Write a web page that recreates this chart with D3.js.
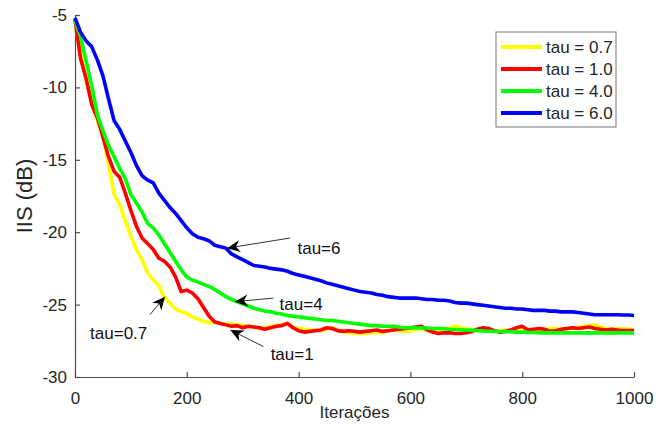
<!DOCTYPE html>
<html><head><meta charset="utf-8">
<script src="https://cdn.jsdelivr.net/npm/d3@7/dist/d3.min.js"></script>
<style>html,body{margin:0;padding:0;background:#fff;}svg{display:block;font-family:"Liberation Sans",Arial,sans-serif;}</style>
</head><body><svg id="c" width="669" height="432"></svg>
<script>
const iterations = d3.range(0, 1001, 10);
const seriesNames = ["tau = 0.7", "tau = 1.0", "tau = 4.0", "tau = 6.0"];
const seriesColors = ["#ffff00", "#ff0000", "#00ff00", "#0000ff"];
const xTicks = [0, 200, 400, 600, 800, 1000];
const yTicks = [-5, -10, -15, -20, -25, -30];

const tau07 = [-5.5,-7.5,-9.6,-11.0,-12.3,-13.4,-15.3,-17.4,-18.1,-19.2,-20.3,-21.2,-21.9,-22.8,-23.3,-23.7,-24.5,-24.9,-25.3,-25.5,
-25.6,-25.85,-26.0,-26.15,-26.25,-26.2,-26.3,-26.35,-26.35,-26.4,-26.45,-26.5,-26.55,-26.65,-26.6,-26.5,-26.45,-26.4,-26.3,-26.55,
-26.65,-26.7,-26.75,-26.75,-26.8,-26.7,-26.6,-26.75,-26.85,-26.95,-27.0,-27.0,-27.0,-26.95,-26.9,-26.95,-26.8,-26.75,-26.8,-26.85,
-26.8,-26.7,-26.65,-26.8,-26.9,-26.85,-26.75,-26.6,-26.5,-26.6,-26.65,-26.75,-26.7,-26.75,-26.8,-26.85,-26.8,-26.75,-26.8,-26.7,
-26.65,-26.7,-26.75,-26.8,-26.75,-26.65,-26.65,-26.7,-26.65,-26.6,-26.55,-26.5,-26.45,-26.4,-26.55,-26.65,-26.7,-26.65,-26.65,-26.7,-26.7];
const tau10 = [-5.3,-8.0,-9.4,-11.2,-12.1,-13.4,-14.8,-15.8,-16.2,-17.3,-18.5,-19.6,-20.4,-20.8,-21.2,-21.8,-22.0,-22.4,-23.1,-24.1,
-24.0,-24.2,-24.6,-25.2,-25.8,-26.2,-26.3,-26.4,-26.5,-26.45,-26.6,-26.5,-26.55,-26.6,-26.7,-26.6,-26.5,-26.45,-26.3,-26.6,
-26.8,-26.9,-26.85,-26.8,-26.75,-26.6,-26.65,-26.8,-26.85,-26.8,-26.85,-26.9,-26.85,-26.8,-26.75,-26.85,-26.8,-26.75,-26.7,-26.65,
-26.6,-26.55,-26.5,-26.75,-26.9,-27.0,-26.95,-26.95,-27.0,-27.0,-26.95,-26.85,-26.7,-26.6,-26.65,-26.8,-26.9,-26.85,-26.75,-26.6,
-26.5,-26.75,-26.7,-26.65,-26.7,-26.85,-26.8,-26.7,-26.65,-26.6,-26.65,-26.6,-26.55,-26.65,-26.7,-26.75,-26.7,-26.75,-26.8,-26.8,-26.8];
const tau40 = [-5.4,-6.5,-8.2,-9.9,-11.9,-13.0,-14.0,-14.8,-15.6,-16.3,-17.4,-18.0,-18.6,-19.4,-19.7,-20.2,-20.8,-21.4,-22.0,-22.6,
-23.1,-23.3,-23.45,-23.6,-23.75,-23.95,-24.2,-24.45,-24.65,-24.8,-24.95,-25.1,-25.25,-25.35,-25.45,-25.5,-25.6,-25.65,-25.75,-25.8,
-25.85,-25.9,-25.95,-26.0,-26.05,-26.1,-26.1,-26.15,-26.2,-26.25,-26.3,-26.35,-26.4,-26.45,-26.45,-26.5,-26.5,-26.5,-26.55,-26.6,
-26.6,-26.6,-26.62,-26.62,-26.64,-26.65,-26.67,-26.7,-26.72,-26.74,-26.75,-26.77,-26.8,-26.82,-26.84,-26.85,-26.86,-26.87,-26.88,-26.9,
-26.9,-26.92,-26.93,-26.94,-26.95,-26.95,-26.95,-26.95,-26.95,-26.95,-26.95,-26.95,-26.95,-26.95,-26.95,-26.95,-26.95,-26.95,-26.95,-26.95,-26.95];
const tau60 = [-5.2,-6.2,-6.8,-7.2,-8.1,-9.2,-10.8,-12.3,-12.9,-13.7,-14.5,-15.4,-16.1,-16.4,-16.6,-17.3,-17.8,-18.3,-18.7,-19.2,
-19.7,-20.1,-20.35,-20.45,-20.6,-20.9,-21.0,-21.1,-21.5,-21.7,-21.9,-22.1,-22.3,-22.35,-22.4,-22.5,-22.55,-22.6,-22.7,-22.85,
-22.95,-23.05,-23.15,-23.25,-23.35,-23.5,-23.6,-23.7,-23.8,-23.9,-24.0,-24.1,-24.15,-24.2,-24.3,-24.35,-24.45,-24.5,-24.55,-24.55,
-24.55,-24.55,-24.6,-24.65,-24.65,-24.7,-24.7,-24.75,-24.85,-24.9,-24.9,-24.95,-25.0,-25.05,-25.1,-25.15,-25.2,-25.25,-25.25,-25.3,
-25.3,-25.35,-25.4,-25.4,-25.4,-25.45,-25.45,-25.5,-25.5,-25.5,-25.55,-25.6,-25.65,-25.7,-25.7,-25.7,-25.7,-25.7,-25.72,-25.72,-25.75];

const annLabels = ["tau=6", "tau=4", "tau=1", "tau=0.7"];
const annTextIt = [398, 366, 350, 27];
const annTextDb = [-21.5, -25.4, -28.8, -27.4];
const annTailIt = [385, 355, 337, 134];
const annTailDb = [-20.4, -24.55, -27.9, -25.7];
const annHeadIt = [272, 286, 278, 161];
const annHeadDb = [-21.1, -24.8, -26.75, -24.45];

const series = [tau07, tau10, tau40, tau60];

const svg = d3.select("#c");
const x = d3.scaleLinear().domain([0, 1000]).range([75, 634]);
const y = d3.scaleLinear().domain([-30, -5]).range([377, 15]);
const axisColor = "#4d4d4d";
const textColor = "#262626";

// axes
const xa = svg.append("g").attr("transform", `translate(0,${y(-30)})`)
  .call(d3.axisBottom(x).tickValues(xTicks).tickFormat(d => String(d)).tickSizeInner(-5).tickSizeOuter(0).tickPadding(15));
const ya = svg.append("g").attr("transform", `translate(${x(0)},0)`)
  .call(d3.axisLeft(y).tickValues(yTicks).tickFormat(d => String(d)).tickSizeInner(-5).tickSizeOuter(0).tickPadding(8));
[xa, ya].forEach(g => {
  g.select(".domain").attr("stroke", axisColor).attr("stroke-width", 1.2);
  g.selectAll(".tick line").attr("stroke", axisColor).attr("stroke-width", 1.2);
  g.selectAll(".tick text").attr("fill", textColor).style("font-size", "17px").style("font-family", "Liberation Sans, Arial, sans-serif");
});
xa.selectAll(".tick text").attr("dy", "0.71em");

// lines
const line = d3.line().x((d, i) => x(iterations[i])).y(d => y(d)).curve(d3.curveLinear);
series.forEach((s, k) => {
  svg.append("path").datum(s).attr("d", line).attr("fill", "none")
    .attr("stroke", seriesColors[k]).attr("stroke-width", 3.6).attr("stroke-linejoin", "round");
});

// annotations
annLabels.forEach((lab, i) => {
  const x1 = x(annTailIt[i]), y1 = y(annTailDb[i]);
  const x2 = x(annHeadIt[i]), y2 = y(annHeadDb[i]);
  svg.append("line").attr("x1", x1).attr("y1", y1).attr("x2", x2).attr("y2", y2)
    .attr("stroke", "#333").attr("stroke-width", 1);
  const ang = Math.atan2(y2 - y1, x2 - x1) * 180 / Math.PI;
  svg.append("path").attr("d", "M0,0 L-13,-6 L-9,0 L-13,6 Z")
    .attr("transform", `translate(${x2},${y2}) rotate(${ang})`).attr("fill", "#000");
  svg.append("text").attr("x", x(annTextIt[i])).attr("y", y(annTextDb[i])).text(lab)
    .attr("fill", "#111").style("font-size", "17px");
});

// axis titles
svg.append("text").attr("x", (x(0) + x(1000)) / 2).attr("y", 418).attr("text-anchor", "middle")
  .attr("fill", textColor).style("font-size", "17px").text("Iterações");
svg.append("text").attr("transform", `translate(32,${(y(-5) + y(-30)) / 2}) rotate(-90)`)
  .attr("text-anchor", "middle").attr("fill", textColor).style("font-size", "22px").text("IIS (dB)");

// legend
const lg = svg.append("g").attr("transform", "translate(496,32)");
lg.append("rect").attr("width", 120).attr("height", 95).attr("fill", "#fff").attr("stroke", "#777").attr("stroke-width", 1);
seriesNames.forEach((n, i) => {
  const yy = 15 + i * 22;
  lg.append("line").attr("x1", 5).attr("x2", 46).attr("y1", yy).attr("y2", yy)
    .attr("stroke", seriesColors[i]).attr("stroke-width", 4);
  lg.append("text").attr("x", 50).attr("y", yy).attr("dy", "0.35em").attr("fill", textColor)
    .style("font-size", "17px").text(n);
});
</script></body></html>
